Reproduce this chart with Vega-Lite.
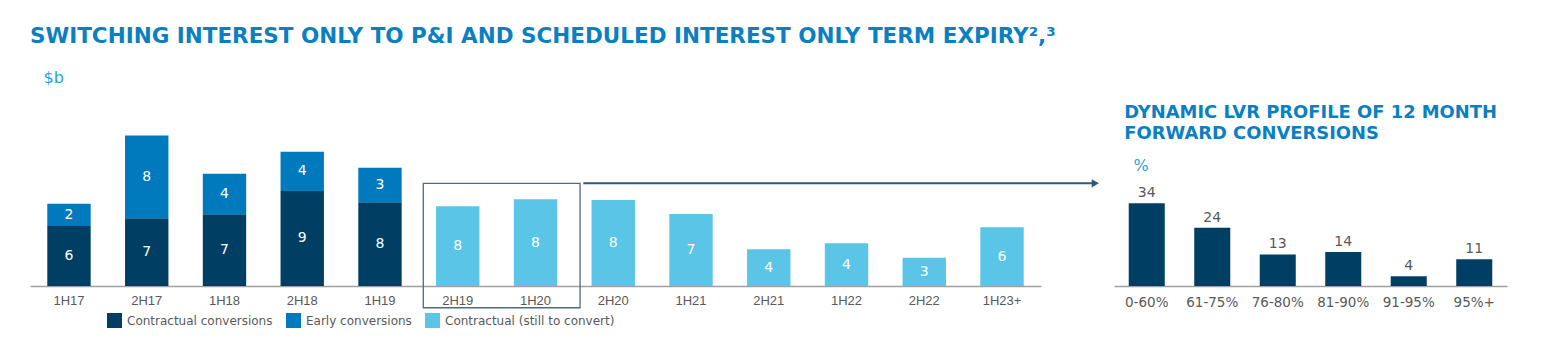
{
  "$schema": "https://vega.github.io/schema/vega-lite/v6.json",
  "width": 1545,
  "height": 186,
  "autosize": {"type": "none"},
  "padding": {"top": 100, "left": 0, "right": 0, "bottom": 65},
  "background": "white",
  "config": {"view": {"stroke": null}, "font": "DejaVu Sans"},
  "title": {
    "text": "SWITCHING INTEREST ONLY TO P&I AND SCHEDULED INTEREST ONLY TERM EXPIRY²,³",
    "anchor": "start",
    "frame": "group",
    "font": "DejaVu Sans",
    "fontWeight": "bold",
    "fontSize": 21.5,
    "color": "#0a80c2",
    "baseline": "alphabetic",
    "dx": 30,
    "dy": -5,
    "offset": 0
  },
  "datasets": {
    "left": [
      {"period": "1H17", "series": "Contractual conversions", "value": 5.80},
      {"period": "1H17", "series": "Early conversions", "value": 2.15},
      {"period": "2H17", "series": "Contractual conversions", "value": 6.55},
      {"period": "2H17", "series": "Early conversions", "value": 7.99},
      {"period": "1H18", "series": "Contractual conversions", "value": 6.93},
      {"period": "1H18", "series": "Early conversions", "value": 3.92},
      {"period": "2H18", "series": "Contractual conversions", "value": 9.18},
      {"period": "2H18", "series": "Early conversions", "value": 3.80},
      {"period": "1H19", "series": "Contractual conversions", "value": 8.09},
      {"period": "1H19", "series": "Early conversions", "value": 3.33},
      {"period": "2H19", "series": "Contractual (still to convert)", "value": 7.70},
      {"period": "1H20", "series": "Contractual (still to convert)", "value": 8.38},
      {"period": "2H20", "series": "Contractual (still to convert)", "value": 8.31},
      {"period": "1H21", "series": "Contractual (still to convert)", "value": 6.96},
      {"period": "2H21", "series": "Contractual (still to convert)", "value": 3.55},
      {"period": "1H22", "series": "Contractual (still to convert)", "value": 4.13},
      {"period": "2H22", "series": "Contractual (still to convert)", "value": 2.73},
      {"period": "1H23+", "series": "Contractual (still to convert)", "value": 5.67}
    ],
    "right": [
      {"lvr": "0-60%", "pct": 34},
      {"lvr": "61-75%", "pct": 24},
      {"lvr": "76-80%", "pct": 13},
      {"lvr": "81-90%", "pct": 14},
      {"lvr": "91-95%", "pct": 4},
      {"lvr": "95%+", "pct": 11}
    ]
  },
  "layer": [
    {
      "data": {"name": "left"},
      "layer": [
        {
          "mark": {"type": "bar", "width": {"band": 0.558}},
          "encoding": {
            "x": {
              "field": "period", "type": "nominal",
              "sort": ["1H17", "2H17", "1H18", "2H18", "1H19", "2H19", "1H20", "2H20", "1H21", "2H21", "1H22", "2H22", "1H23+"],
              "scale": {"type": "band", "range": [30.1, 1040.9], "paddingInner": 0, "paddingOuter": 0},
              "axis": {"orient": "bottom", "title": null, "ticks": false, "domainColor": "#a0a0a0", "domainWidth": 1.5, "labelFont": "Liberation Sans", "labelFontSize": 13, "labelColor": "#595959", "labelPadding": 8, "labelAngle": 0}
            },
            "y": {
              "field": "value", "type": "quantitative", "stack": "zero",
              "scale": {"domain": [0, 17.97], "nice": false},
              "axis": {"orient": "left", "title": "$b", "titleAngle": 0, "titleX": 43, "titleY": -18, "titleAlign": "left", "titleBaseline": "alphabetic", "titleFont": "DejaVu Sans", "titleFontSize": 16, "titleFontWeight": "normal", "titleColor": "#2d9fdc", "domain": false, "ticks": false, "labels": false, "grid": false}
            },
            "order": {"field": "series", "type": "nominal", "sort": "ascending"},
            "color": {
              "field": "series", "type": "nominal",
              "scale": {"domain": ["Contractual conversions", "Early conversions", "Contractual (still to convert)"], "range": ["#003f63", "#0079bd", "#5bc5e8"]},
              "legend": {"orient": "none", "legendX": 107, "legendY": 213, "direction": "horizontal", "title": null, "symbolType": "square", "symbolSize": 225, "symbolStrokeWidth": 0, "labelFont": "DejaVu Sans", "labelFontSize": 12, "labelColor": "#595959", "labelOffset": 5, "labelLimit": 400, "columnPadding": 13, "padding": 0}
            }
          }
        },
        {
          "mark": {"type": "text", "color": "white", "fontSize": 14, "baseline": "middle", "font": "DejaVu Sans"},
          "encoding": {
            "x": {"field": "period", "type": "nominal", "sort": ["1H17", "2H17", "1H18", "2H18", "1H19", "2H19", "1H20", "2H20", "1H21", "2H21", "1H22", "2H22", "1H23+"]},
            "y": {"field": "value", "type": "quantitative", "stack": "zero", "bandPosition": 0.5},
            "detail": {"field": "series", "type": "nominal"},
            "order": {"field": "series", "type": "nominal", "sort": "ascending"},
            "text": {"field": "value", "type": "quantitative", "format": ".0f"}
          }
        },
        {
          "data": {"values": [{}]},
          "mark": {"type": "rect", "filled": false, "stroke": "#516b7d", "strokeWidth": 1.3},
          "encoding": {
            "x": {"datum": "2H19", "bandPosition": 0.057},
            "x2": {"datum": "1H20", "bandPosition": 1.073},
            "y": {"datum": 9.92},
            "y2": {"datum": -2.1}
          }
        },
        {
          "data": {"values": [{}]},
          "mark": {"type": "rule", "stroke": "#2d5a7b", "strokeWidth": 2},
          "encoding": {
            "x": {"datum": "1H20", "bandPosition": 1.115},
            "x2": {"datum": "1H23+", "bandPosition": 1.68},
            "y": {"datum": 9.92}
          }
        },
        {
          "data": {"values": [{}]},
          "mark": {"type": "point", "shape": "triangle-right", "filled": true, "color": "#2d5a7b", "size": 70, "opacity": 1},
          "encoding": {
            "x": {"datum": "1H23+", "bandPosition": 1.7},
            "y": {"datum": 9.92}
          }
        }
      ]
    },
    {
      "data": {"name": "right"},
      "layer": [
        {
          "mark": {"type": "bar", "width": {"band": 0.55}, "color": "#003f63"},
          "encoding": {
            "x": {
              "field": "lvr", "type": "nominal", "sort": null,
              "scale": {"type": "band", "range": [1114, 1507], "paddingInner": 0, "paddingOuter": 0},
              "axis": {"orient": "bottom", "title": null, "ticks": false, "domainColor": "#a0a0a0", "domainWidth": 1.5, "labelFont": "DejaVu Sans", "labelFontSize": 13.5, "labelColor": "#595959", "labelPadding": 9, "labelAngle": 0}
            },
            "y": {
              "field": "pct", "type": "quantitative",
              "scale": {"domain": [0, 76.5], "nice": false},
              "axis": {"orient": "left", "title": "%", "titleAngle": 0, "titleX": 1133, "titleY": 70, "titleAlign": "left", "titleBaseline": "alphabetic", "titleFont": "DejaVu Sans", "titleFontSize": 16, "titleFontWeight": "normal", "titleColor": "#2d9fdc", "domain": false, "ticks": false, "labels": false, "grid": false}
            }
          }
        },
        {
          "mark": {"type": "text", "color": "#595959", "fontSize": 14, "baseline": "alphabetic", "dy": -6, "font": "DejaVu Sans"},
          "encoding": {
            "x": {"field": "lvr", "type": "nominal", "sort": null},
            "y": {"field": "pct", "type": "quantitative"},
            "text": {"field": "pct", "type": "quantitative"}
          }
        },
        {
          "data": {"values": [{}]},
          "mark": {"type": "text", "align": "left", "baseline": "alphabetic", "lineHeight": 21, "font": "DejaVu Sans", "fontWeight": "bold", "fontSize": 17.9, "color": "#0a80c2"},
          "encoding": {
            "x": {"datum": "0-60%", "bandPosition": 0.157},
            "y": {"datum": 69.0},
            "text": {"value": ["DYNAMIC LVR PROFILE OF 12 MONTH", "FORWARD CONVERSIONS"]}
          }
        }
      ]
    }
  ],
  "resolve": {
    "scale": {"x": "independent", "y": "independent"},
    "axis": {"x": "independent", "y": "independent"}
  }
}
